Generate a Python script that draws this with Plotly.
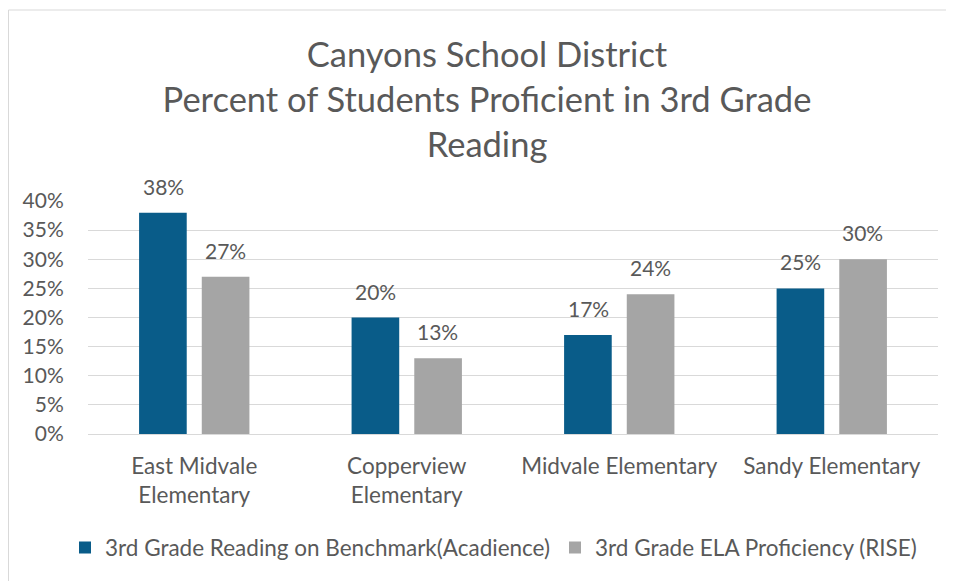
import plotly.graph_objects as go

schools = ["East Midvale<br>Elementary", "Copperview<br>Elementary", "Midvale Elementary", "Sandy Elementary"]
series_names = ["3rd Grade Reading on Benchmark(Acadience)", "3rd Grade ELA Proficiency (RISE)"]
acadience = [0.38, 0.20, 0.17, 0.25]
rise = [0.27, 0.13, 0.24, 0.30]
tick_vals = [0, 0.05, 0.10, 0.15, 0.20, 0.25, 0.30, 0.35, 0.40]
colors = ["#095C89", "#A5A5A5"]

FONT = "Lato"
GREY_TXT = "#595959"

W, H = 946, 573
ML, MR, MT, MB = 80, 16, 193, 147
PW = W - ML - MR
PH = H - MT - MB

legend_ids = ["legend", "legend2"]
legend_left = [57 / W, 547 / W]

fig = go.Figure()
annotations = []
for i, (name, vals) in enumerate(zip(series_names, [acadience, rise])):
    fig.add_trace(go.Bar(
        x=schools, y=vals, name=name, marker_color=colors[i], marker_line_width=0,
        legend=legend_ids[i],
    ))
    for s, v in zip(schools, vals):
        annotations.append(dict(
            x=s, y=v, xref="x", yref="y", text=f"{round(v*100)}%", showarrow=False,
            xshift=-31 if i == 0 else 31, yanchor="bottom", yshift=12,
            font=dict(family=FONT, size=21, color=GREY_TXT),
        ))

legend_style = dict(orientation="h", xref="container", xanchor="left", y=-0.489, yanchor="middle",
                    font=dict(family=FONT, size=22.5, color=GREY_TXT), bgcolor="rgba(0,0,0,0)")

fig.update_layout(
    width=W, height=H,
    margin=dict(l=ML, r=MR, t=MT, b=MB, autoexpand=False),
    paper_bgcolor="white", plot_bgcolor="white",
    barmode="group", bargap=0.41, bargroupgap=0.24,
    title=dict(text="Canyons School District<br>Percent of Students Proficient in 3rd Grade<br>Reading",
               x=479 / W, xanchor="center", y=1 - 59 / H, yanchor="top",
               font=dict(family=FONT, size=34.5, color=GREY_TXT)),
    font=dict(family=FONT, color=GREY_TXT),
    showlegend=True,
    legend=dict(x=legend_left[0], **legend_style),
    legend2=dict(x=legend_left[1], **legend_style),
    xaxis=dict(showgrid=False, showline=True, linecolor="#d9d9d9", ticks="outside", ticklen=12,
               tickcolor="rgba(0,0,0,0)", tickfont=dict(family=FONT, size=22.5, color=GREY_TXT)),
    yaxis=dict(range=[0, 0.40], tickvals=tick_vals, tickformat=".0%", showgrid=True,
               gridcolor="#d9d9d9", gridwidth=1, zeroline=False, showline=False,
               tickfont=dict(family=FONT, size=21, color=GREY_TXT), ticks="outside",
               ticklen=19, tickcolor="rgba(0,0,0,0)"),
    annotations=annotations,
    shapes=[dict(type="rect", xref="paper", yref="paper", x0=-79.5 / PW, x1=1.2, y0=-1.0,
                 y1=(PH + MT - 2) / PH,
                 line=dict(color="#d9d9d9", width=1), fillcolor="rgba(0,0,0,0)", layer="below")],
)

fig.write_html("out.html")
